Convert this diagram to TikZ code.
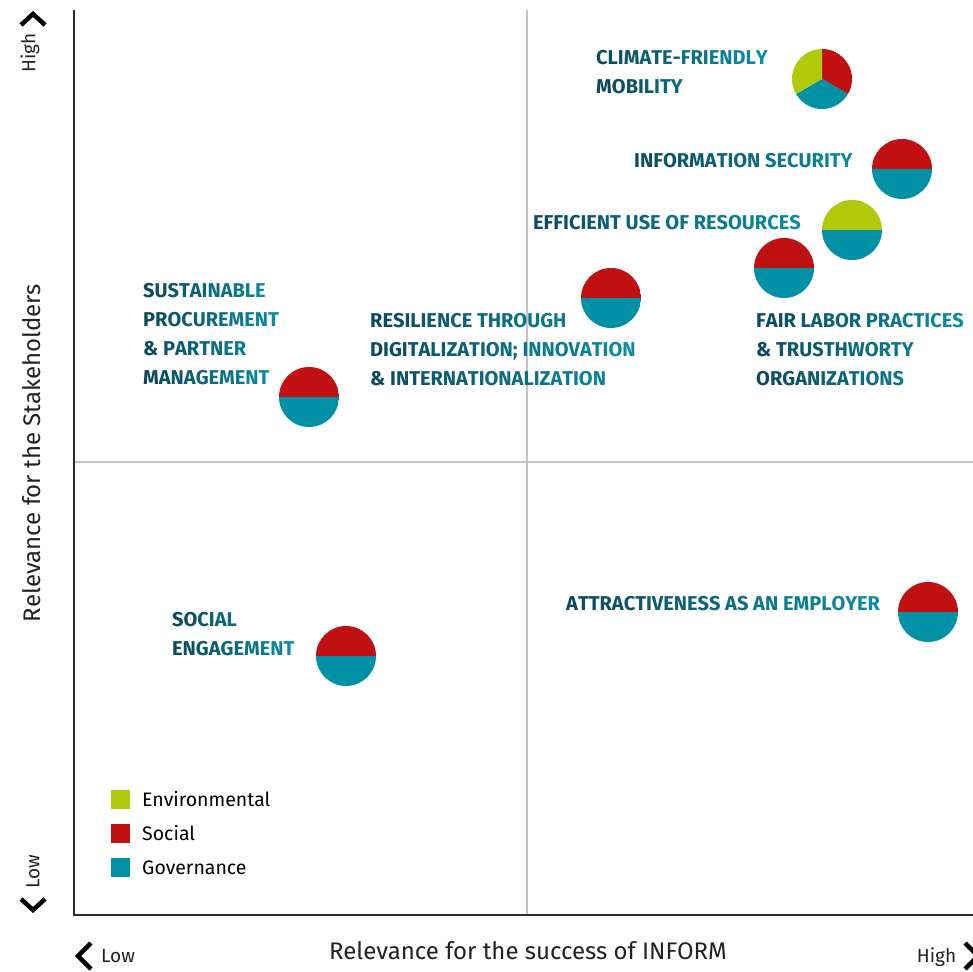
\documentclass[tikz,border=0pt]{standalone}
\usepackage{fontspec}
\setmainfont{Fira Sans}
\newfontfamily\lblfont{Fira Sans}
\definecolor{cred}{HTML}{C01012}
\definecolor{cteal}{HTML}{0091A6}
\definecolor{cgreen}{HTML}{B2C90C}
\definecolor{lbldk}{HTML}{0B4A5D}
\definecolor{lbllt}{HTML}{0B8BA2}
\definecolor{axcol}{HTML}{2B2B2B}
\definecolor{gridcol}{HTML}{C4C4C4}
\definecolor{txtcol}{HTML}{222222}
\ExplSyntaxOn
\int_new:N \l__grd_n_int
\int_new:N \l__grd_i_int
\NewDocumentCommand \grad { m m m }
  {
    \int_set:Nn \l__grd_n_int { \int_max:nn { \tl_count:n {#3} - 1 } { 1 } }
    \int_zero:N \l__grd_i_int
    \tl_map_inline:nn {#3}
      {
        \use:x
          {
            \exp_not:N \textcolor
              { lbllt ! \int_eval:n { #1 + ( #2 - #1 ) * \l__grd_i_int / \l__grd_n_int } ! lbldk }
              { \exp_not:n {##1} }
          }
        \int_incr:N \l__grd_i_int
      }
  }
\ExplSyntaxOff
\begin{document}
\begin{tikzpicture}[x=1pt,y=1pt,
  esgdot/.style={circle, minimum size=60pt, inner sep=0pt, outer sep=0pt},
  halfdot/.style={esgdot, path picture={
      \fill[#1] (path picture bounding box.west) rectangle (path picture bounding box.north east);
      \fill[cteal] (path picture bounding box.south west) rectangle (path picture bounding box.east);}},
  piedot/.style={esgdot, path picture={
      \fill[cred] (path picture bounding box.center) -- ++(90:40) arc[start angle=90,end angle=-30,radius=40] -- cycle;
      \fill[cteal] (path picture bounding box.center) -- ++(-30:40) arc[start angle=-30,end angle=-150,radius=40] -- cycle;
      \fill[cgreen] (path picture bounding box.center) -- ++(-150:40) arc[start angle=-150,end angle=-270,radius=40] -- cycle;}},
  lbl/.style={anchor=west, inner sep=0pt, align=left, font=\lblfont\bfseries\fontsize{20}{29}\selectfont},
  legsq/.style={minimum size=19pt, inner sep=0pt, outer sep=0pt},
  legtxt/.style={anchor=west, inner sep=0pt, text=black, font=\fontsize{19.5}{22}\selectfont},
  axlbl/.style={inner sep=0pt, text=txtcol, font=\fontsize{24}{28}\selectfont},
  hilo/.style={inner sep=0pt, text=txtcol, font=\fontsize{19}{22}\selectfont},
  chev/.style={line width=4.5pt, black, line join=miter, line cap=butt},
  axline/.style={line width=1.5pt, axcol},
  gridline/.style={line width=1.2pt, gridcol}
]
\useasboundingbox (0,0) rectangle (973,971);
\fill[white] (0,0) rectangle (973,971);

% coordinates of the frame
\coordinate (o) at (74,56);
\coordinate (ytop) at (74,961);
\coordinate (xend) at (973,56);
\coordinate (gvb) at (527,56);
\coordinate (gvt) at (527,961);
\coordinate (ghl) at (74,509);
\coordinate (ghr) at (973,509);

% grid
\draw[gridline] (gvb) -- (gvt);
\draw[gridline] (ghl) -- (ghr);
% axes
\draw[axline] (ytop) -- (o) -- (xend);

% dots
\node[piedot] (clim) at (822,892) {};
\node[halfdot=cred] (info) at (902,802) {};
\node[halfdot=cgreen] (eff) at (852,741) {};
\node[halfdot=cred] (fair) at (784,703) {};
\node[halfdot=cred] (resil) at (611,673) {};
\node[halfdot=cred] (sust) at (309,574) {};
\node[halfdot=cred] (attr) at (928,359) {};
\node[halfdot=cred] (soc) at (346,315) {};

% labels
\node[lbl] (climT) at (596,899) {\grad{0}{100}{CLIMATE-FRIENDLY}\\\grad{0}{49}{MOBILITY}};
\node[lbl] (infoT) at (634,810) {\grad{0}{100}{INFORMATION~SECURITY}};
\node[lbl] (effT) at (533,748) {\grad{0}{100}{EFFICIENT~USE~OF~RESOURCES}};
\node[lbl] (sustT) at (143,636.5) {\grad{0}{90}{SUSTAINABLE}\\\grad{0}{100}{PROCUREMENT}\\\grad{0}{74}{\&~PARTNER}\\\grad{0}{95}{MANAGEMENT}};
\node[lbl] (resilT) at (370,621.5) {\grad{0}{74}{RESILIENCE~THROUGH}\\\grad{0}{100}{DIGITALIZATION;~INNOVATION}\\\grad{0}{89}{\&~INTERNATIONALIZATION}};
\node[lbl] (fairT) at (756,621.5) {\grad{0}{100}{FAIR~LABOR~PRACTICES}\\\grad{0}{73}{\&~TRUSTHWORTY}\\\grad{0}{70}{ORGANIZATIONS}};
\node[lbl] (attrT) at (566,367) {\grad{0}{100}{ATTRACTIVENESS~AS~AN~EMPLOYER}};
\node[lbl] (socT) at (172,336.5) {\grad{0}{51}{SOCIAL}\\\grad{0}{100}{ENGAGEMENT}};

% legend
\node[legsq, fill=cgreen] (lgE) at (120.5,171.5) {};
\node[legsq, fill=cred] (lgS) at (120.5,137.5) {};
\node[legsq, fill=cteal] (lgG) at (120.5,103.5) {};
\node[legtxt] (ltE) at (142,171.5) {Environmental};
\node[legtxt] (ltS) at (142,137.5) {Social};
\node[legtxt] (ltG) at (142,103.5) {Governance};

% axis titles
\node[axlbl, rotate=90] (ytitle) at (32,518) {Relevance for the Stakeholders};
\node[axlbl] (xtitle) at (528,20) {Relevance for the success of INFORM};

% high / low
\node[hilo, rotate=90] (yhigh) at (30,918) {High};
\node[hilo, rotate=90] (ylow) at (33,99) {Low};
\node[hilo, anchor=base] (xlow) at (118,9) {Low};
\node[hilo, anchor=base] (xhigh) at (936.5,9) {High};

% chevrons
\draw[chev] (21,946) -- (33,957) -- (45,946);
\draw[chev] (21,72) -- (33,61) -- (45,72);
\draw[chev] (91,28) -- (78,15) -- (91,2);
\begin{scope}
\clip (0,0) rectangle (973,971);
\draw[chev] (965,28) -- (978,15) -- (965,2);
\end{scope}
\end{tikzpicture}
\end{document}
